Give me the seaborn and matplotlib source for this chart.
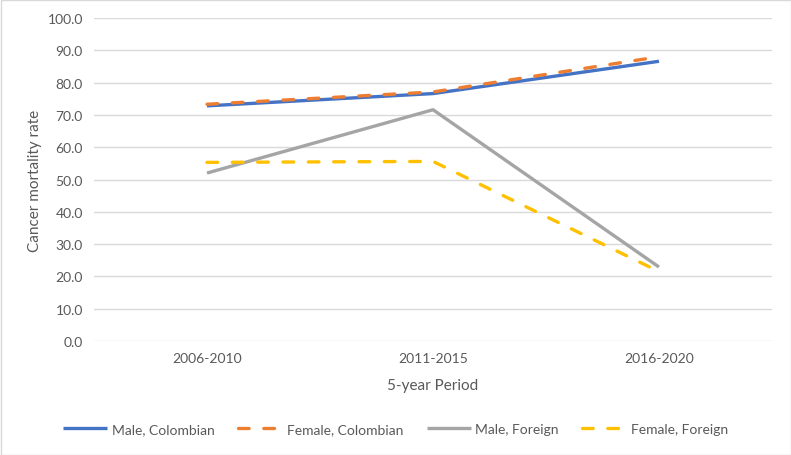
import matplotlib
matplotlib.use("Agg")
import matplotlib.pyplot as plt
import seaborn as sns
import pandas as pd
from matplotlib.patches import Rectangle

periods = ["2006-2010", "2011-2015", "2016-2020"]
series_names = ["Male, Colombian", "Female, Colombian", "Male, Foreign", "Female, Foreign"]
male_colombian = [72.8, 76.6, 86.6]
female_colombian = [73.3, 77.1, 88.0]
male_foreign = [52.0, 71.6, 22.9]
female_foreign = [55.3, 55.6, 21.5]
y_ticks = [0, 10, 20, 30, 40, 50, 60, 70, 80, 90, 100]

values = [male_colombian, female_colombian, male_foreign, female_foreign]
rows = []
for name, vals in zip(series_names, values):
    for p, v in zip(periods, vals):
        rows.append({"Period": p, "Series": name, "Rate": v})
df = pd.DataFrame(rows)

sns.set_theme(style="white")
plt.rcParams['font.family'] = ['Lato', 'DejaVu Sans']

palette = {"Male, Colombian": "#4472C4", "Female, Colombian": "#ED7D31",
           "Male, Foreign": "#A5A5A5", "Female, Foreign": "#FFC000"}
dashes = {"Male, Colombian": "", "Female, Colombian": (3.2, 4.4),
          "Male, Foreign": "", "Female, Foreign": (3.2, 4.4)}

fig = plt.figure(figsize=(7.91, 4.56), dpi=100)
ax = fig.add_axes([94/791, 1-342/456, (772-94)/791, (342-19)/456])

sns.lineplot(data=df, x="Period", y="Rate", hue="Series", style="Series",
             palette=palette, dashes=dashes, hue_order=series_names,
             style_order=series_names, linewidth=2.4, ax=ax, legend=True,
             sort=False)
for line in ax.get_lines():
    line.set_dash_capstyle("round")
    line.set_solid_capstyle("butt")

ax.set_xlim(-0.5, 2.5)
ax.set_ylim(0, 100)
ax.set_yticks(y_ticks)
ax.set_yticklabels([f"{t:.1f}" for t in y_ticks])
ax.yaxis.grid(True, color="#D9D9D9", linewidth=1)
ax.set_axisbelow(True)
for s in ax.spines.values():
    s.set_visible(False)
ax.tick_params(axis="both", length=0, labelsize=10, colors="#595959", pad=8)
ax.set_xlabel("5-year Period", fontsize=11, color="#595959", labelpad=10)
ax.set_ylabel("Cancer mortality rate", fontsize=11, color="#595959", labelpad=4)

handles, labels = ax.get_legend_handles_labels()
ax.get_legend().remove()
for h in handles:
    h.set_dash_capstyle("round")
leg = fig.legend(handles, labels, loc="center", bbox_to_anchor=(0.5, 1-430/456),
                 ncol=4, frameon=False, fontsize=10, handlelength=3.2,
                 columnspacing=1.7, handletextpad=0.3)
for t in leg.get_texts():
    t.set_color("#595959")

fig.patches.append(Rectangle((0.5/791, 0.5/456), 1-1/791, 1-1/456, transform=fig.transFigure,
                             fill=False, edgecolor="#D9D9D9", linewidth=1))

fig.savefig("out.png", dpi=100)
